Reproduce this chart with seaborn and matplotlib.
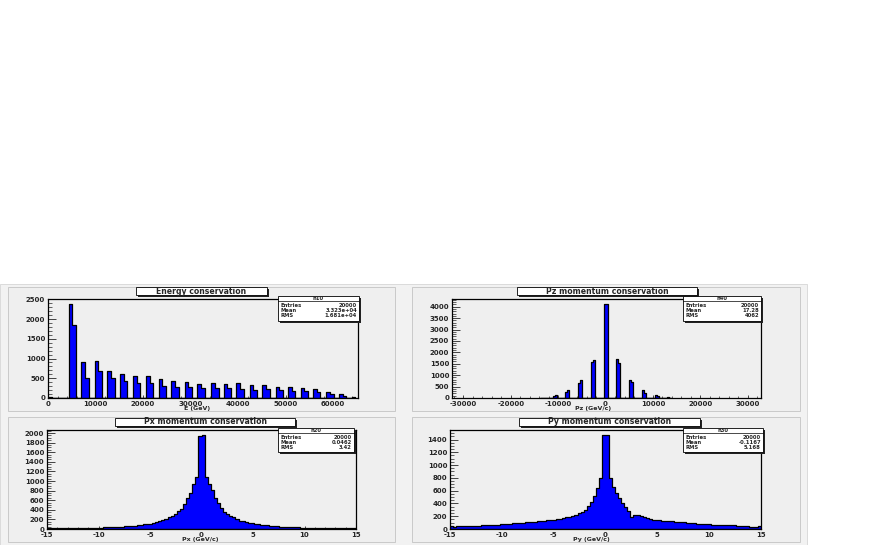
# Four ROOT style histograms (energy and momentum conservation) drawn with seaborn
import matplotlib
matplotlib.use("Agg")
import matplotlib.pyplot as plt
from matplotlib.patches import Rectangle
from matplotlib.lines import Line2D
from matplotlib.ticker import MultipleLocator
import seaborn as sns
import numpy as np
import pandas as pd

# Output size in pixels
W, H = 872, 545

# ---- h10 : energy, counts come in pairs of neighbouring bins ----
energy_pair_start = [4360, 7030, 9830, 12500, 15160, 17900, 20630, 23300, 25980, 28780, 31450,
                     34400, 36990, 39660, 42460, 45130, 47930, 50520, 53190, 55780, 58600, 61260]
energy_first = [2390, 915, 930, 695, 605, 555, 550, 490, 425, 400, 350,
                390, 360, 370, 340, 330, 280, 275, 250, 225, 145, 95]
energy_second = [1860, 505, 675, 510, 420, 375, 370, 295, 275, 280, 250,
                 260, 260, 240, 205, 220, 195, 190, 170, 150, 105, 55]
energy_single_start = [0, 63900]
energy_single_count = [30, 30]
energy_bin_width = 770

# ---- h40 : Pz, narrow peaks at regular spacing ----
pz_peak = [-13450, -10760, -8070, -5380, -2690, 0, 2690, 5380, 8070, 10760, 13450]
pz_left = [20, 80, 280, 640, 1560, 4130, 1690, 790, 355, 115, 30]
pz_right = [12, 125, 355, 795, 1665, 4100, 1530, 690, 240, 75, 15]
pz_half_width = 430

# ---- h20 : Px, 100 bins from -15 to 15 ----
px_counts = [12, 12, 13, 13, 14, 15, 15, 16, 17, 18,
             20, 20, 22, 24, 25, 27, 28, 30, 32, 35,
             38, 42, 45, 50, 52, 58, 62, 70, 72, 80,
             85, 95, 105, 110, 130, 150, 170, 190, 210, 245,
             265, 320, 380, 420, 520, 650, 750, 930, 1075, 1930,
             1965, 1080, 945, 820, 650, 540, 430, 350, 320, 280,
             240, 205, 175, 160, 150, 130, 125, 110, 95, 88,
             82, 75, 68, 60, 55, 50, 48, 42, 40, 38,
             35, 33, 30, 28, 27, 25, 24, 22, 21, 20,
             19, 18, 17, 16, 16, 15, 14, 14, 13, 12]

# ---- h30 : Py, 100 bins from -15 to 15 ----
py_counts = [40, 38, 40, 42, 44, 46, 48, 50, 52, 54,
             56, 58, 62, 66, 68, 70, 74, 78, 82, 86,
             90, 92, 96, 100, 104, 108, 112, 116, 120, 126,
             132, 138, 142, 148, 152, 160, 170, 180, 190, 205,
             225, 245, 265, 305, 360, 430, 510, 645, 795, 1475,
             1470, 800, 660, 570, 490, 400, 345, 280, 195, 215,
             225, 205, 190, 170, 160, 145, 140, 135, 130, 125,
             120, 118, 112, 110, 105, 102, 98, 92, 90, 85,
             80, 78, 76, 72, 70, 68, 66, 64, 62, 60,
             60, 55, 52, 48, 45, 40, 32, 28, 30, 40]
mom_range = (-15, 15)
mom_bins = 100

# Stats box contents
stats = {
    "h10": ["20000", "3.323e+04", "1.681e+04"],
    "h40": ["20000", "17.28", "4062"],
    "h20": ["20000", "0.0462", "3.42"],
    "h30": ["20000", "-0.1167", "5.168"],
}

FILL = "#0000ff"
PAD = "#efefef"


def fig_box(x0, y0, x1, y1):
    # pixel box (top-left origin) -> figure fraction [left, bottom, width, height]
    return [x0 / W, 1 - y1 / H, (x1 - x0) / W, (y1 - y0) / H]


def add_rect(fig, x0, y0, x1, y1, z, **kw):
    l, b, w, h = fig_box(x0, y0, x1, y1)
    fig.add_artist(Rectangle((l, b), w, h, transform=fig.transFigure, zorder=z, **kw))


def pair_table(starts, firsts, seconds, width, single_start=(), single_count=()):
    centers, counts, edges = [], [], []
    for s, c in zip(single_start, single_count):
        edges += [s, s + width]
        centers.append(s + width / 2)
        counts.append(c)
    for s, a, b in zip(starts, firsts, seconds):
        edges += [s, s + width, s + 2 * width]
        centers += [s + width / 2, s + 1.5 * width]
        counts += [a, b]
    return pd.DataFrame({"center": centers, "count": counts}), sorted(set(edges))


def draw_hist(ax, df, edges):
    sns.histplot(data=df, x="center", weights="count", bins=list(edges), element="step",
                 fill=True, color=FILL, edgecolor="black", linewidth=0.9, alpha=1, ax=ax)


def style_axes(ax, xlim, ymax, xmaj, xmin, ymaj, ymin, xlabel, label_x):
    ax.set_xlim(*xlim)
    ax.set_ylim(0, ymax)
    ax.set_facecolor(PAD)
    ax.xaxis.set_major_locator(MultipleLocator(xmaj))
    ax.xaxis.set_minor_locator(MultipleLocator(xmin))
    ax.yaxis.set_major_locator(MultipleLocator(ymaj))
    ax.yaxis.set_minor_locator(MultipleLocator(ymin))
    ax.tick_params(axis="y", which="major", direction="in", length=5.8, width=0.6, pad=2, labelsize=5.0)
    ax.tick_params(axis="y", which="minor", direction="in", length=2.9, width=0.5)
    ax.tick_params(axis="x", which="major", direction="in", length=2.4, width=0.6, pad=2.0, labelsize=5.0)
    ax.tick_params(axis="x", which="minor", direction="in", length=1.2, width=0.5)
    for sp in ax.spines.values():
        sp.set_color("black")
        sp.set_linewidth(0.9)
        sp.set_visible(True)
    ax.set_ylabel("")
    ax.set_xlabel(xlabel, fontsize=4.5, fontweight="bold")
    ax.xaxis.set_label_coords(label_x, -0.085)


def title_box(fig, x0, y0, x1, y1, text):
    add_rect(fig, x0 + 1.5, y0 + 1.5, x1 + 1.5, y1 + 1.5, 5, facecolor="#222222", edgecolor="none")
    add_rect(fig, x0, y0, x1, y1, 6, facecolor="white", edgecolor="black", linewidth=0.6)
    fig.text((x0 + x1) / 2 / W, 1 - (y0 + y1) / 2 / H, text, ha="center", va="center",
             fontsize=5.6, fontweight="bold", zorder=7)


def stats_box(fig, x0, y0, x1, y1, name, values):
    add_rect(fig, x0 + 1.5, y0 + 1.5, x1 + 1.5, y1 + 1.5, 5, facecolor="#222222", edgecolor="none")
    add_rect(fig, x0, y0, x1, y1, 6, facecolor="white", edgecolor="black", linewidth=0.6)
    fig.text((x0 + x1) / 2 / W, 1 - (y0 + 2.2) / H, name, ha="center", va="center",
             fontsize=3.8, fontweight="bold", zorder=7)
    fig.add_artist(Line2D([x0 / W, x1 / W], [1 - (y0 + 4.5) / H] * 2, color="black",
                          linewidth=0.5, transform=fig.transFigure, zorder=7))
    for k, (lab, val) in enumerate(zip(["Entries", "Mean", "RMS"], values)):
        yy = 1 - (y0 + 9.5 + 4.9 * k) / H
        fig.text((x0 + 2) / W, yy, lab, ha="left", va="center", fontsize=3.8,
                 fontweight="bold", zorder=7)
        fig.text((x1 - 2) / W, yy, val, ha="right", va="center", fontsize=3.8,
                 fontweight="bold", zorder=7)


def main():
    sns.set_style("ticks")
    plt.rcParams["font.family"] = ["DejaVu Sans"]
    plt.rcParams["font.weight"] = "bold"
    plt.rcParams["axes.unicode_minus"] = False

    fig = plt.figure(figsize=(W / 100, H / 100), dpi=100, facecolor="white")

    # canvas and the four pads
    add_rect(fig, 0, 284, 807, 545, -3, facecolor="#f2f2f2", edgecolor="#d6d6d6", linewidth=0.6)
    for x0, y0, x1, y1 in [(8, 287, 395, 411), (412, 287, 800, 411),
                           (8, 417, 395, 542), (412, 417, 800, 542)]:
        add_rect(fig, x0, y0, x1, y1, -2, facecolor=PAD, edgecolor="#c9c9c9", linewidth=0.7)

    # energy
    ax1 = fig.add_axes(fig_box(48, 299, 358, 398))
    df_e, edges_e = pair_table(energy_pair_start, energy_first, energy_second, energy_bin_width,
                               energy_single_start, energy_single_count)
    draw_hist(ax1, df_e, edges_e)
    style_axes(ax1, (0, 65250), 1.05 * max(energy_first), 10000, 2000, 500, 100, "E (GeV)", 0.48)

    # pz
    ax2 = fig.add_axes(fig_box(452, 299, 761, 398))
    pz_start = [p - pz_half_width for p in pz_peak]
    df_z, edges_z = pair_table(pz_start, pz_left, pz_right, pz_half_width)
    draw_hist(ax2, df_z, edges_z)
    style_axes(ax2, (-32400, 32800), 1.05 * max(pz_left), 10000, 2000, 500, 100, "Pz (GeV/c)", 0.456)

    # px and py
    edges_m = np.linspace(mom_range[0], mom_range[1], mom_bins + 1)
    centers_m = (edges_m[:-1] + edges_m[1:]) / 2
    ax3 = fig.add_axes(fig_box(47, 430, 356, 529))
    draw_hist(ax3, pd.DataFrame({"center": centers_m, "count": px_counts}), edges_m)
    style_axes(ax3, mom_range, 1.05 * max(px_counts), 5, 1, 200, 50, "Px (GeV/c)", 0.495)

    ax4 = fig.add_axes(fig_box(450, 430, 761, 529))
    draw_hist(ax4, pd.DataFrame({"center": centers_m, "count": py_counts}), edges_m)
    style_axes(ax4, mom_range, 1.05 * max(py_counts), 5, 1, 200, 50, "Py (GeV/c)", 0.456)

    # titles and stats boxes
    title_box(fig, 136, 287, 267, 295, "Energy conservation")
    title_box(fig, 517, 287, 697, 295, "Pz momentum conservation")
    title_box(fig, 115, 418, 295, 426, "Px momentum conservation")
    title_box(fig, 519, 418, 700, 426, "Py momentum conservation")

    stats_box(fig, 278, 296, 359, 321, "h10", stats["h10"])
    stats_box(fig, 683, 296, 761, 321, "h40", stats["h40"])
    stats_box(fig, 278, 428, 354, 452, "h20", stats["h20"])
    stats_box(fig, 683, 428, 763, 452, "h30", stats["h30"])

    fig.savefig("out.png", dpi=100, facecolor="white")
    plt.close(fig)


if __name__ == "__main__":
    main()
